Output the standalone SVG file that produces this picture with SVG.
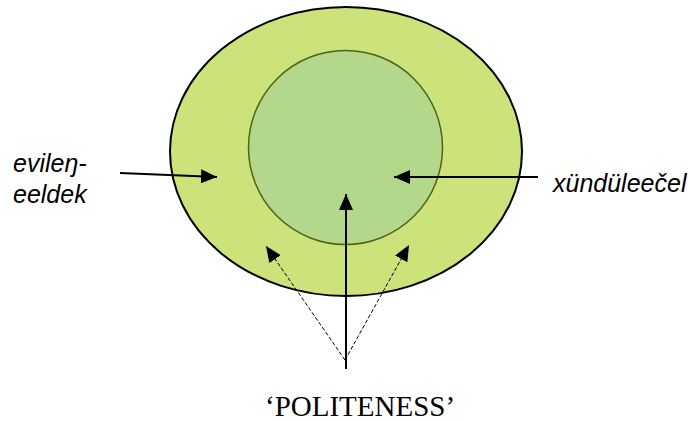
<svg xmlns="http://www.w3.org/2000/svg" width="688" height="421" viewBox="0 0 688 421">
  <defs>
    <marker id="ah" markerUnits="userSpaceOnUse" markerWidth="16" markerHeight="14" refX="16" refY="7" orient="auto">
      <path d="M0,0 L16,7 L0,14 Z" fill="#000"/>
    </marker>
  </defs>
  <style>
    .lbl { font-family: "Liberation Sans", Arial, sans-serif; font-style: italic; font-size: 25px; fill: #000; }
    .title { font-family: "Liberation Serif", "Times New Roman", serif; font-size: 29px; fill: #000; }
    .solid { stroke: #000; stroke-width: 2; fill: none; }
    .dash { stroke: #000; stroke-width: 1; stroke-dasharray: 4 2; fill: none; }
  </style>
  <rect width="688" height="421" fill="#fff"/>
  <g id="outer">
    <ellipse cx="346" cy="151.5" rx="176" ry="144.5" fill="#cce27a" stroke="#000" stroke-width="2"/>
  </g>
  <g id="inner">
    <circle cx="345.5" cy="147.5" r="97" fill="#b3d88c" stroke="#4f6414" stroke-width="1.5"/>
  </g>
  <g id="label-left">
    <text class="lbl" x="13" y="172">evileŋ-</text>
    <text class="lbl" x="13" y="203">eeldek</text>
  </g>
  <g id="label-right">
    <text class="lbl" x="553" y="192">xündüleečel</text>
  </g>
  <g id="label-bottom">
    <text class="title" x="265" y="416">‘POLITENESS’</text>
  </g>
  <g id="connectors">
    <line class="solid" x1="120" y1="173" x2="217" y2="177" marker-end="url(#ah)"/>
    <line class="solid" x1="538" y1="177" x2="394" y2="177" marker-end="url(#ah)"/>
    <line class="solid" x1="346" y1="369" x2="346" y2="194" stroke-width="3" marker-end="url(#ah)"/>
    <line class="dash" x1="345" y1="360" x2="266" y2="246" marker-end="url(#ah)"/>
    <line class="dash" x1="345" y1="360" x2="409" y2="245" marker-end="url(#ah)"/>
  </g>
</svg>
